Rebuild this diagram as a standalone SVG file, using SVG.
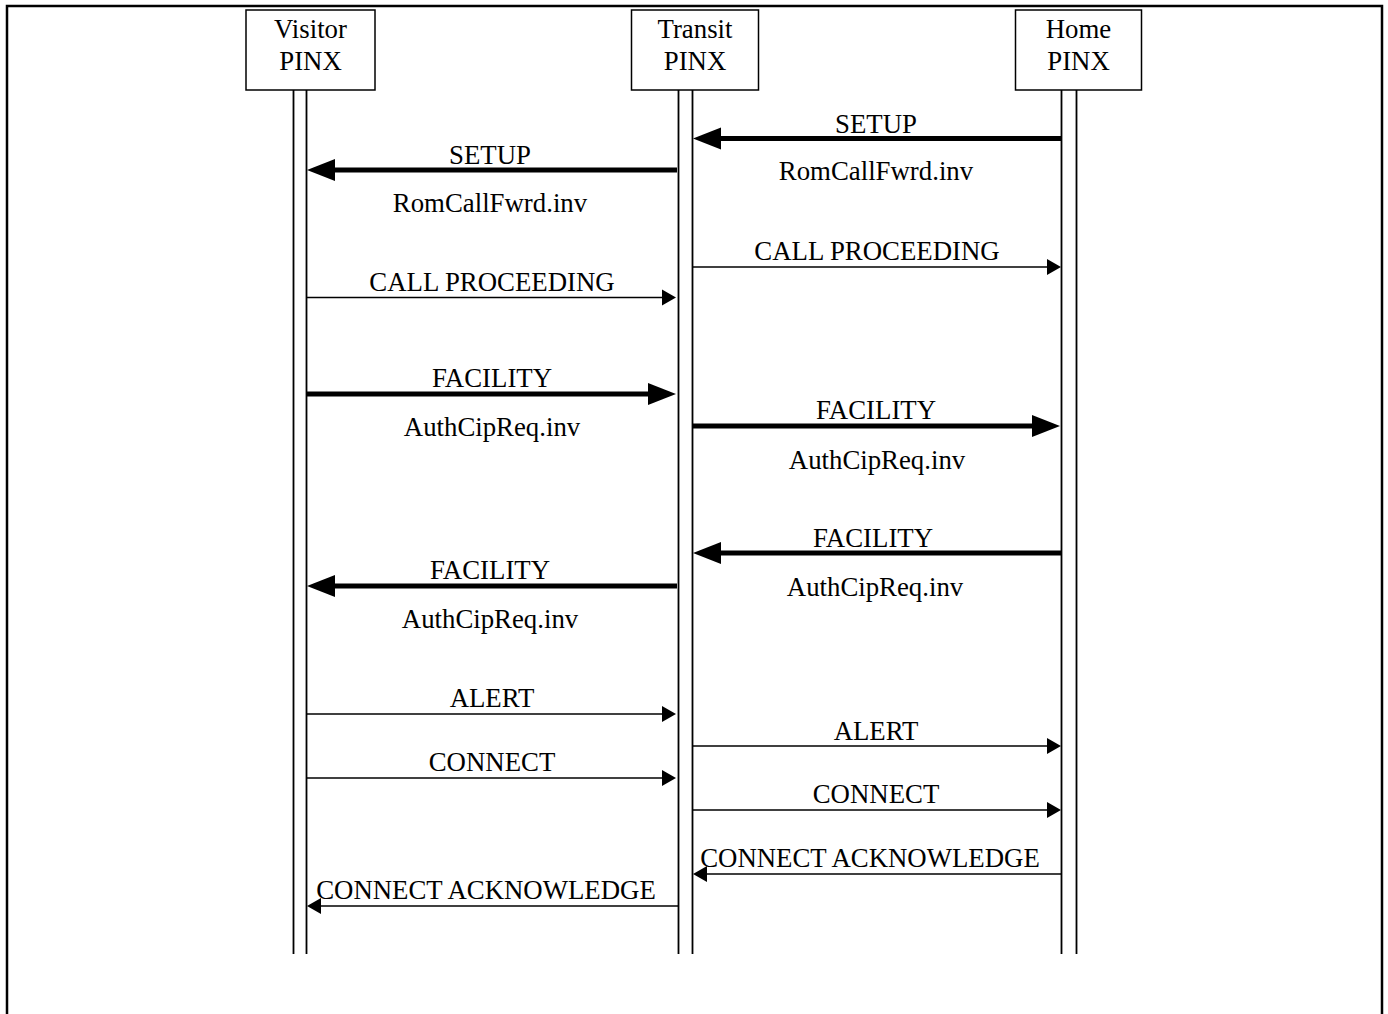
<svg xmlns="http://www.w3.org/2000/svg" width="1388" height="1014" viewBox="0 0 1388 1014">
<style>
text{font-family:"Liberation Serif","Times New Roman",serif;font-size:26.8px;fill:#000;text-anchor:middle}
.box{fill:#fff;stroke:#000;stroke-width:1.5}
.life{stroke:#000;stroke-width:1.8;fill:none}
.thick{stroke:#000;stroke-width:5;fill:none}
.thin{stroke:#000;stroke-width:1.5;fill:none}
.hd{fill:#000;stroke:none}
</style>
<rect width="1388" height="1014" fill="#fff"/>
<path d="M7,1014 V6 H1382 V1014" fill="none" stroke="#000" stroke-width="2.5"/>
<g id="visitor">
<rect class="box" x="246" y="10" width="129" height="80"/>
<text x="310.5" y="38">Visitor</text>
<text x="310.5" y="70">PINX</text>
<line class="life" x1="293.5" y1="90" x2="293.5" y2="954"/>
<line class="life" x1="306.5" y1="90" x2="306.5" y2="954"/>
</g>
<g id="transit">
<rect class="box" x="631.5" y="10" width="127" height="80"/>
<text x="695" y="38">Transit</text>
<text x="695" y="70">PINX</text>
<line class="life" x1="678.5" y1="90" x2="678.5" y2="954"/>
<line class="life" x1="692.5" y1="90" x2="692.5" y2="954"/>
</g>
<g id="home">
<rect class="box" x="1015.5" y="10" width="126" height="80"/>
<text x="1078.5" y="38">Home</text>
<text x="1078.5" y="70">PINX</text>
<line class="life" x1="1061.5" y1="90" x2="1061.5" y2="954"/>
<line class="life" x1="1076.5" y1="90" x2="1076.5" y2="954"/>
</g>
<g id="connectors">
<line class="thick" x1="1061" y1="138.5" x2="719" y2="138.5"/>
<polygon class="hd" points="693,138.5 721,127.5 721,149.5"/>
<text x="876" y="133">SETUP</text>
<text x="876" y="180">RomCallFwrd.inv</text>
<line class="thick" x1="677" y1="170" x2="333" y2="170"/>
<polygon class="hd" points="307,170 335,159 335,181"/>
<text x="490" y="164">SETUP</text>
<text x="490" y="212">RomCallFwrd.inv</text>
<line class="thin" x1="692.5" y1="267" x2="1048" y2="267"/>
<polygon class="hd" points="1061,267 1047,259 1047,275"/>
<text x="877" y="260">CALL PROCEEDING</text>
<line class="thin" x1="306.5" y1="297.5" x2="663" y2="297.5"/>
<polygon class="hd" points="676,297.5 662,289.5 662,305.5"/>
<text x="492" y="291">CALL PROCEEDING</text>
<line class="thick" x1="306.5" y1="394" x2="650" y2="394"/>
<polygon class="hd" points="676,394 648,383 648,405"/>
<text x="492" y="387">FACILITY</text>
<text x="492" y="436">AuthCipReq.inv</text>
<line class="thick" x1="692" y1="426" x2="1034" y2="426"/>
<polygon class="hd" points="1060,426 1032,415 1032,437"/>
<text x="876" y="419">FACILITY</text>
<text x="877" y="469">AuthCipReq.inv</text>
<line class="thick" x1="1061" y1="553" x2="719" y2="553"/>
<polygon class="hd" points="693,553 721,542 721,564"/>
<text x="873" y="547">FACILITY</text>
<text x="875" y="596">AuthCipReq.inv</text>
<line class="thick" x1="677" y1="586" x2="333" y2="586"/>
<polygon class="hd" points="307,586 335,575 335,597"/>
<text x="490" y="579">FACILITY</text>
<text x="490" y="628">AuthCipReq.inv</text>
<line class="thin" x1="306.5" y1="714" x2="663" y2="714"/>
<polygon class="hd" points="676,714 662,706 662,722"/>
<text x="492" y="707">ALERT</text>
<line class="thin" x1="692.5" y1="746" x2="1048" y2="746"/>
<polygon class="hd" points="1061,746 1047,738 1047,754"/>
<text x="876" y="740">ALERT</text>
<line class="thin" x1="306.5" y1="778" x2="663" y2="778"/>
<polygon class="hd" points="676,778 662,770 662,786"/>
<text x="492" y="771">CONNECT</text>
<line class="thin" x1="692.5" y1="810" x2="1048" y2="810"/>
<polygon class="hd" points="1061,810 1047,802 1047,818"/>
<text x="876" y="803">CONNECT</text>
<line class="thin" x1="1061.5" y1="874" x2="706" y2="874"/>
<polygon class="hd" points="693,874 707,866 707,882"/>
<text x="870" y="867">CONNECT ACKNOWLEDGE</text>
<line class="thin" x1="678.5" y1="906" x2="320" y2="906"/>
<polygon class="hd" points="307,906 321,898 321,914"/>
<text x="486" y="899">CONNECT ACKNOWLEDGE</text>
</g>
</svg>
